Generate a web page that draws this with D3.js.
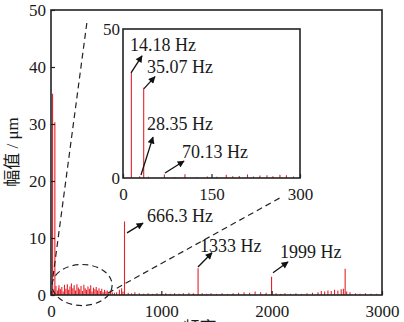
<!DOCTYPE html>
<html><head><meta charset="utf-8">
<script src="https://cdn.jsdelivr.net/npm/d3@7/dist/d3.min.js"></script>
<style>
html,body{margin:0;padding:0;background:#fff;}
svg{display:block;}
text{font-family:"Liberation Serif","Times New Roman","Noto Sans CJK SC",serif;fill:#1a1a1a;}
</style></head>
<body>
<svg id="c" width="404" height="322"></svg>
<script>
// ---------- data ----------
const xTicksMain = [0, 1000, 2000, 3000];
const yTicksMain = [0, 10, 20, 30, 40, 50];
const xTicksInset = [0, 150, 300];
const yTicksInset = [0, 50];
const xTitle = "频率 / Hz";
const yTitle = "幅值 / μm";

// dominant peaks [Hz, μm]
const peakFreqs = [14.18, 35.07, 28.35, 70.13, 666.3, 1333, 1999, 2666];
const peakAmps  = [35.3, 30.3, 0.6, 1.2, 12.9, 4.7, 3.2, 4.6];

// low-frequency noise as seen in the main plot
const lowFreqs = [45, 60, 72, 85, 98, 110, 122, 135, 148, 160, 172, 185, 198, 210, 222, 235, 248, 260, 272, 285, 298, 310, 322, 335, 348, 360, 372, 385, 398, 410, 422, 435, 448, 460, 472, 485, 498, 510, 525, 540, 555, 575, 595, 620, 640, 652];
const lowAmps  = [1.6, 0.8, 1.7, 1.0, 1.4, 0.6, 1.8, 1.1, 1.9, 0.9, 1.5, 2.0, 1.2, 1.7, 0.8, 1.9, 1.3, 1.0, 1.6, 0.7, 1.8, 1.2, 0.9, 1.5, 1.1, 1.7, 0.6, 1.3, 1.0, 1.4, 0.8, 1.2, 0.7, 1.1, 0.5, 0.9, 0.6, 0.8, 0.4, 0.7, 0.5, 0.4, 0.5, 0.9, 1.2, 0.6];

// high-frequency noise floor
const highFreqs = [700, 730, 760, 800, 840, 880, 920, 960, 1000, 1040, 1080, 1120, 1160, 1200, 1250, 1290, 1370, 1410, 1450, 1500, 1550, 1600, 1650, 1700, 1750, 1800, 1850, 1900, 1950, 2040, 2080, 2120, 2170, 2220, 2270, 2320, 2370, 2420, 2450, 2480, 2510, 2540, 2570, 2600, 2630, 2650, 2680, 2710, 2760, 2800, 2850, 2900, 2950];
const highAmps  = [0.4, 0.3, 0.5, 0.3, 0.2, 0.3, 0.2, 0.3, 0.2, 0.3, 0.2, 0.3, 0.2, 0.3, 0.4, 0.3, 0.3, 0.2, 0.3, 0.2, 0.3, 0.2, 0.3, 0.4, 0.5, 0.4, 0.6, 0.5, 0.4, 0.3, 0.2, 0.3, 0.2, 0.3, 0.2, 0.3, 0.4, 0.5, 0.7, 0.6, 0.8, 0.7, 0.9, 0.8, 1.0, 1.1, 0.6, 0.5, 0.3, 0.2, 0.3, 0.2, 0.2];

// zoomed (0-300 Hz) spectrum of the inset
const insetFreqs = [43, 88, 105, 125, 143, 159, 175, 186, 197, 211, 221, 232, 244, 254, 266, 277, 289];
const insetAmps  = [0.45, 0.3, 1.3, 0.3, 0.5, 0.45, 1.1, 0.55, 0.65, 1.2, 0.5, 0.8, 0.9, 0.6, 1.1, 0.9, 0.5];

// annotation labels
const mainLabels  = ["666.3 Hz", "1333 Hz", "1999 Hz"];
const insetLabels = ["14.18 Hz", "35.07 Hz", "28.35 Hz", "70.13 Hz"];

// ---------- layout ----------
const RED = "#e3232b", INK = "#222";
const svg = d3.select("#c");
const x = d3.scaleLinear([0, 3000], [51, 382]);
const y = d3.scaleLinear([0, 50], [295, 10]);
const xi = d3.scaleLinear([0, 300], [123, 300]);
const yi = d3.scaleLinear([0, 50], [178, 29]);

const zip = (f, a) => f.map((v, i) => ({f: v, a: a[i]}));
const mainData = zip(lowFreqs, lowAmps).concat(zip(highFreqs, highAmps), zip(peakFreqs, peakAmps));
const insetData = zip(insetFreqs, insetAmps).concat(zip(peakFreqs, peakAmps).filter(d => d.f <= 300));

svg.append("defs").append("marker")
  .attr("id", "ah").attr("viewBox", "0 0 10 10").attr("refX", 9).attr("refY", 5)
  .attr("markerWidth", 8).attr("markerHeight", 7).attr("markerUnits", "userSpaceOnUse")
  .attr("orient", "auto")
  .append("path").attr("d", "M0,0 L10,5 L0,10 Z").attr("fill", "#111");

// main bars
svg.append("g").selectAll("line").data(mainData).join("line")
  .attr("x1", d => x(d.f)).attr("x2", d => x(d.f))
  .attr("y1", y(0)).attr("y2", d => y(d.a))
  .attr("stroke", RED).attr("stroke-width", 1.1);

// main axes
function styleAxis(g) {
  g.select(".domain").remove();
  g.selectAll(".tick line").attr("stroke", INK).attr("stroke-width", 1.2);
  g.selectAll("text").style("font-size", "17px").attr("fill", "#1a1a1a")
    .style("font-family", '"Liberation Serif", serif');
}
svg.append("g").attr("transform", `translate(0,${y(0)})`)
  .call(d3.axisBottom(x).tickValues(xTicksMain).tickSize(-4).tickPadding(10).tickFormat(d3.format("d")))
  .call(styleAxis);
svg.append("g").attr("transform", `translate(${x(0)},0)`)
  .call(d3.axisLeft(y).tickValues(yTicksMain).tickSize(-4).tickPadding(5).tickFormat(d3.format("d")))
  .call(styleAxis);
svg.append("rect").attr("x", x(0)).attr("y", y(50)).attr("width", x(3000) - x(0)).attr("height", y(0) - y(50))
  .attr("fill", "none").attr("stroke", INK).attr("stroke-width", 1.6);

// titles
svg.append("text").attr("x", 216).attr("y", 334).attr("text-anchor", "middle")
  .style("font-size", "17px").text(xTitle);
svg.append("text").attr("transform", "translate(18,152) rotate(-90)").attr("text-anchor", "middle")
  .style("font-size", "17px").text(yTitle);

// zoom ellipse + dashed guide lines (main data units)
const dash = {stroke: INK, "stroke-width": 1.2, "stroke-dasharray": "6,4", fill: "none"};
const ell = svg.append("ellipse").attr("cx", x(282)).attr("cy", y(1.75))
  .attr("rx", x(272) - x(0)).attr("ry", y(0) - y(3.6));
Object.entries(dash).forEach(([k, v]) => ell.attr(k, v));
[[[18, 3.2], [326, 47.9]], [[517, 0.35], [2100, 17.3]]].forEach(([p, q]) => {
  const l = svg.append("line").attr("x1", x(p[0])).attr("y1", y(p[1])).attr("x2", x(q[0])).attr("y2", y(q[1]));
  Object.entries(dash).forEach(([k, v]) => l.attr(k, v));
});

// main annotations: [from, to, text anchor] in data units
const mainAnn = [
  {from: [689, 10.9], to: [834, 12.6], at: [870, 12.8]},
  {from: [1332, 4.9], to: [1459, 7.4], at: [1350, 7.5]},
  {from: [2012, 3.9], to: [2148, 5.8], at: [2075, 6.5]}
];
mainAnn.forEach((a, i) => {
  svg.append("line").attr("x1", x(a.from[0])).attr("y1", y(a.from[1]))
    .attr("x2", x(a.to[0])).attr("y2", y(a.to[1]))
    .attr("stroke", "#111").attr("stroke-width", 1.3).attr("marker-end", "url(#ah)");
  svg.append("text").attr("x", x(a.at[0])).attr("y", y(a.at[1])).style("font-size", "18px").text(mainLabels[i]);
});

// ---------- inset ----------
const ig = svg.append("g");
ig.append("rect").attr("x", xi(0)).attr("y", yi(50)).attr("width", xi(300) - xi(0)).attr("height", yi(0) - yi(50))
  .attr("fill", "#fff");
ig.append("g").selectAll("line").data(insetData).join("line")
  .attr("x1", d => xi(d.f)).attr("x2", d => xi(d.f))
  .attr("y1", yi(0)).attr("y2", d => yi(d.a))
  .attr("stroke", RED).attr("stroke-width", 1.1);
ig.append("g").attr("transform", `translate(0,${yi(0)})`)
  .call(d3.axisBottom(xi).tickValues(xTicksInset).tickSize(-4).tickPadding(10).tickFormat(d3.format("d")))
  .call(styleAxis);
ig.append("g").attr("transform", `translate(${xi(0)},0)`)
  .call(d3.axisLeft(yi).tickValues(yTicksInset).tickSize(0).tickPadding(3).tickFormat(d3.format("d")))
  .call(styleAxis);
ig.append("rect").attr("x", xi(0)).attr("y", yi(50)).attr("width", xi(300) - xi(0)).attr("height", yi(0) - yi(50))
  .attr("fill", "none").attr("stroke", INK).attr("stroke-width", 1.6);

const insetAnn = [
  {from: [13.6, 35.3], to: [32.2, 41], at: [11.9, 42.7]},
  {from: [35.6, 30], to: [54.2, 34], at: [40.7, 35.3]},
  {from: [30.5, 1], to: [50.8, 13.7], at: [40.7, 16]},
  {from: [71.2, 1.7], to: [103.4, 5.7], at: [100, 6.7]}
];
insetAnn.forEach((a, i) => {
  ig.append("line").attr("x1", xi(a.from[0])).attr("y1", yi(a.from[1]))
    .attr("x2", xi(a.to[0])).attr("y2", yi(a.to[1]))
    .attr("stroke", "#111").attr("stroke-width", 1.3).attr("marker-end", "url(#ah)");
  ig.append("text").attr("x", xi(a.at[0])).attr("y", yi(a.at[1])).style("font-size", "18px").text(insetLabels[i]);
});
</script>
</body></html>
